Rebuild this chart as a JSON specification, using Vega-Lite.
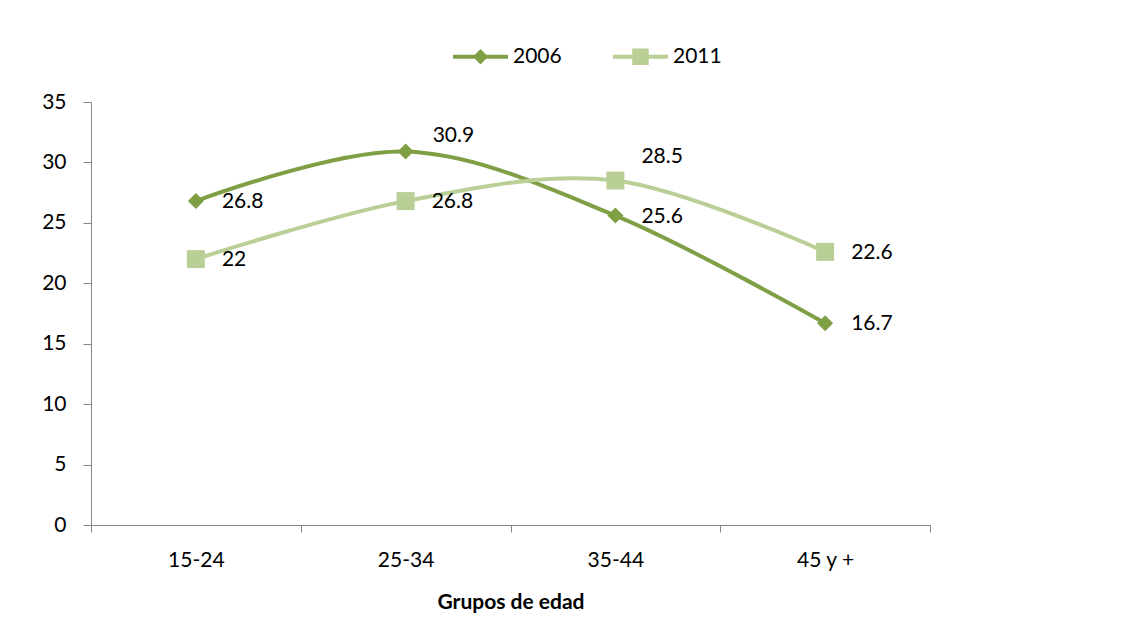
{
  "$schema": "https://vega.github.io/schema/vega-lite/v6.json",
  "autosize": {"type": "none"},
  "padding": {"left": 91, "top": 102, "right": 199, "bottom": 110},
  "width": 839,
  "height": 423,
  "background": "white",
  "data": {"values": [
    {"grupo": "15-24", "anio": "2006", "valor": 26.8},
    {"grupo": "25-34", "anio": "2006", "valor": 30.9},
    {"grupo": "35-44", "anio": "2006", "valor": 25.6},
    {"grupo": "45 y +", "anio": "2006", "valor": 16.7},
    {"grupo": "15-24", "anio": "2011", "valor": 22},
    {"grupo": "25-34", "anio": "2011", "valor": 26.8},
    {"grupo": "35-44", "anio": "2011", "valor": 28.5},
    {"grupo": "45 y +", "anio": "2011", "valor": 22.6}
  ]},
  "encoding": {
    "x": {"field": "grupo", "type": "nominal", "bandPosition": 0.5, "sort": null,
      "scale": {"type": "band", "paddingInner": 0, "paddingOuter": 0},
      "axis": {"title": "Grupos de edad", "labelAngle": 0, "tickBand": "extent", "tickSize": 7, "labelPadding": 17,
        "titlePadding": 21, "titleFontWeight": "bold"}},
    "y": {"field": "valor", "type": "quantitative",
      "scale": {"domain": [0, 35], "nice": false, "zero": true},
      "axis": {"title": null, "values": [0, 5, 10, 15, 20, 25, 30, 35], "grid": false, "tickSize": 8, "labelPadding": 17}}
  },
  "layer": [
    {
      "mark": {"type": "line", "strokeWidth": 4, "interpolate": "cardinal"},
      "encoding": {
        "color": {"field": "anio", "type": "nominal",
          "scale": {"domain": ["2006", "2011"], "range": ["#7F9F45", "#B9CF95"]},
          "legend": {
            "orient": "none", "legendX": 362, "legendY": -73, "direction": "horizontal", "title": null,
            "symbolSize": 3025, "labelOffset": 5, "columnPadding": 51, "labelFontSize": 21,
            "encode": {"symbols": {"update": {
              "shape": {"signal": "datum.value === '2006' ? 'M-1,-0.073H1V0.073H-1Z M0,-0.28L0.28,0L0,0.28L-0.28,0Z' : 'M-1,-0.073H1V0.073H-1Z M-0.3,-0.3H0.3V0.3H-0.3Z'"},
              "fill": {"signal": "datum.value === '2006' ? '#7F9F45' : '#B9CF95'"},
              "fillOpacity": {"value": 1},
              "opacity": {"value": 1},
              "stroke": {"value": "transparent"},
              "strokeWidth": {"value": 0}
            }}}
          }}
      }
    },
    {
      "transform": [{"filter": "datum.anio === '2006'"}],
      "mark": {"type": "point", "shape": "diamond", "filled": true, "size": 256, "opacity": 1, "color": "#7F9F45"}
    },
    {
      "transform": [{"filter": "datum.anio === '2011'"}],
      "mark": {"type": "point", "shape": "square", "filled": true, "size": 324, "opacity": 1, "color": "#B9CF95"}
    },
    {
      "transform": [{"filter": "!(datum.anio === '2006' && datum.grupo === '25-34') && !(datum.anio === '2011' && datum.grupo === '35-44')"}],
      "mark": {"type": "text", "align": "left", "baseline": "middle", "dx": 26, "dy": 1, "fontSize": 21, "font": "Lato", "color": "black"},
      "encoding": {"text": {"field": "valor", "type": "quantitative"}}
    },
    {
      "transform": [{"filter": "datum.anio === '2006' && datum.grupo === '25-34'"}],
      "mark": {"type": "text", "align": "left", "baseline": "middle", "dx": 27, "dy": -16, "fontSize": 21, "font": "Lato", "color": "black"},
      "encoding": {"text": {"field": "valor", "type": "quantitative"}}
    },
    {
      "transform": [{"filter": "datum.anio === '2011' && datum.grupo === '35-44'"}],
      "mark": {"type": "text", "align": "left", "baseline": "middle", "dx": 26, "dy": -24, "fontSize": 21, "font": "Lato", "color": "black"},
      "encoding": {"text": {"field": "valor", "type": "quantitative"}}
    }
  ],
  "config": {
    "font": "Lato",
    "view": {"stroke": null},
    "axis": {"domainColor": "#868686", "tickColor": "#868686", "labelColor": "black", "titleColor": "black",
      "labelFontSize": 21, "titleFontSize": 21, "labelFont": "Lato", "titleFont": "Lato"},
    "legend": {"labelColor": "black", "labelFont": "Lato"}
  }
}
